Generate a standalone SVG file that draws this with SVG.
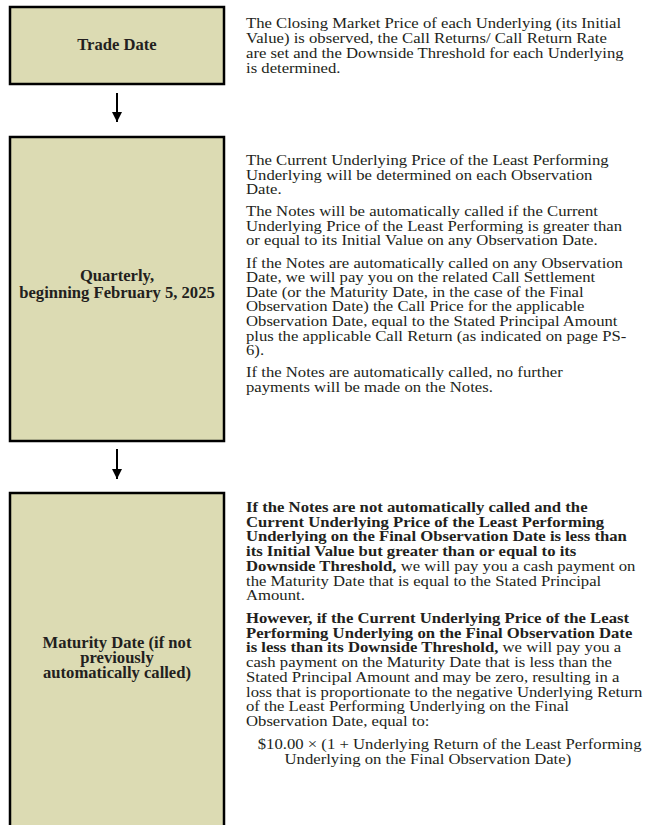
<svg xmlns="http://www.w3.org/2000/svg" width="654" height="825" viewBox="0 0 654 825">
<style>
.box{fill:#dcdbb3;stroke:#000;stroke-width:2.5}
.lbl{font-family:"Liberation Serif","Times New Roman",serif;font-size:16.6px;font-weight:bold;fill:#231f20;text-anchor:middle}
.txt{font-family:"Liberation Serif","Times New Roman",serif;font-size:15.6px;fill:#231f20}
.b{font-weight:bold}
.conn{stroke:#000;stroke-width:2;fill:none}
</style>
<defs>
<marker id="ah" markerWidth="10" markerHeight="10" refX="10" refY="5" orient="auto" markerUnits="userSpaceOnUse" viewBox="0 0 10 10">
<path d="M0,0 L10,5 L0,10 Z" fill="#000"/>
</marker>
</defs>
<g id="trade-date">
<rect class="box" x="10" y="7" width="214" height="77"/>
<text class="lbl" x="117" y="50">Trade Date</text>
<g transform="translate(246 0) scale(1.07 1)">
<text class="txt" x="0" y="28.5">The Closing Market Price of each Underlying (its Initial</text>
<text class="txt" x="0" y="43.2">Value) is observed, the Call Returns/ Call Return Rate</text>
<text class="txt" x="0" y="57.9">are set and the Downside Threshold for each Underlying</text>
<text class="txt" x="0" y="72.6">is determined.</text>
</g>
</g>
<g id="quarterly">
<rect class="box" x="10" y="137" width="214" height="304"/>
<text class="lbl" x="117" y="281">Quarterly,</text>
<text class="lbl" x="117" y="298">beginning February 5, 2025</text>
<g transform="translate(246 0) scale(1.07 1)">
<text class="txt" x="0" y="165">The Current Underlying Price  of the Least Performing</text>
<text class="txt" x="0" y="179.6">Underlying will be determined on each Observation</text>
<text class="txt" x="0" y="194.2">Date.</text>
<text class="txt" x="0" y="216.3">The Notes will be automatically called if the Current</text>
<text class="txt" x="0" y="230.9">Underlying Price of the Least Performing is greater than</text>
<text class="txt" x="0" y="245.5">or equal to its Initial Value on any Observation Date.</text>
<text class="txt" x="0" y="267.6">If the Notes are automatically called on any Observation</text>
<text class="txt" x="0" y="282.2">Date, we will pay you on the related Call Settlement</text>
<text class="txt" x="0" y="296.8">Date (or the Maturity Date, in the case of the Final</text>
<text class="txt" x="0" y="311.4">Observation Date) the Call Price for the applicable</text>
<text class="txt" x="0" y="326">Observation Date, equal to the Stated Principal Amount</text>
<text class="txt" x="0" y="340.6">plus the applicable Call Return (as indicated on page PS-</text>
<text class="txt" x="0" y="355.2">6).</text>
<text class="txt" x="0" y="377.3">If the Notes are automatically called, no further</text>
<text class="txt" x="0" y="391.9">payments will be made on the Notes.</text>
</g>
</g>
<g id="maturity">
<rect class="box" x="10" y="493" width="214" height="345"/>
<text class="lbl" x="117" y="648">Maturity Date (if not</text>
<text class="lbl" x="117" y="663">previously</text>
<text class="lbl" x="117" y="678">automatically called)</text>
<g transform="translate(246 0) scale(1.07 1)">
<text class="txt b" x="0" y="512">If the Notes are not automatically called and the</text>
<text class="txt b" x="0" y="526.75">Current Underlying Price of the Least Performing</text>
<text class="txt b" x="0" y="541.5">Underlying on the Final Observation Date is less than</text>
<text class="txt b" x="0" y="556.25">its Initial Value but greater than or equal to its</text>
<text class="txt" x="0" y="571"><tspan class="b">Downside Threshold,</tspan> we will pay you a cash payment on</text>
<text class="txt" x="0" y="585.75">the Maturity Date that is equal to the Stated Principal</text>
<text class="txt" x="0" y="600.5">Amount.</text>
<text class="txt b" x="0" y="623">However, if the Current Underlying Price of the Least</text>
<text class="txt b" x="0" y="637.75">Performing Underlying on the Final Observation Date</text>
<text class="txt" x="0" y="652.5"><tspan class="b">is less than its Downside Threshold,</tspan> we will pay you a</text>
<text class="txt" x="0" y="667.25">cash payment on the Maturity Date that is less than the</text>
<text class="txt" x="0" y="682">Stated Principal Amount and may be zero, resulting in a</text>
<text class="txt" x="0" y="696.75">loss that is proportionate to the negative Underlying Return</text>
<text class="txt" x="0" y="711.5">of the Least Performing Underlying on the Final</text>
<text class="txt" x="0" y="726.25">Observation Date, equal to:</text>
<text class="txt" x="11" y="749">$10.00 × (1 + Underlying Return of the Least Performing</text>
<text class="txt" x="36" y="763.75">Underlying on the Final Observation Date)</text>
</g>
</g>
<g id="connectors">
<line class="conn" x1="117" y1="93" x2="117" y2="122" marker-end="url(#ah)"/>
<line class="conn" x1="117" y1="449" x2="117" y2="479" marker-end="url(#ah)"/>
</g>
</svg>
